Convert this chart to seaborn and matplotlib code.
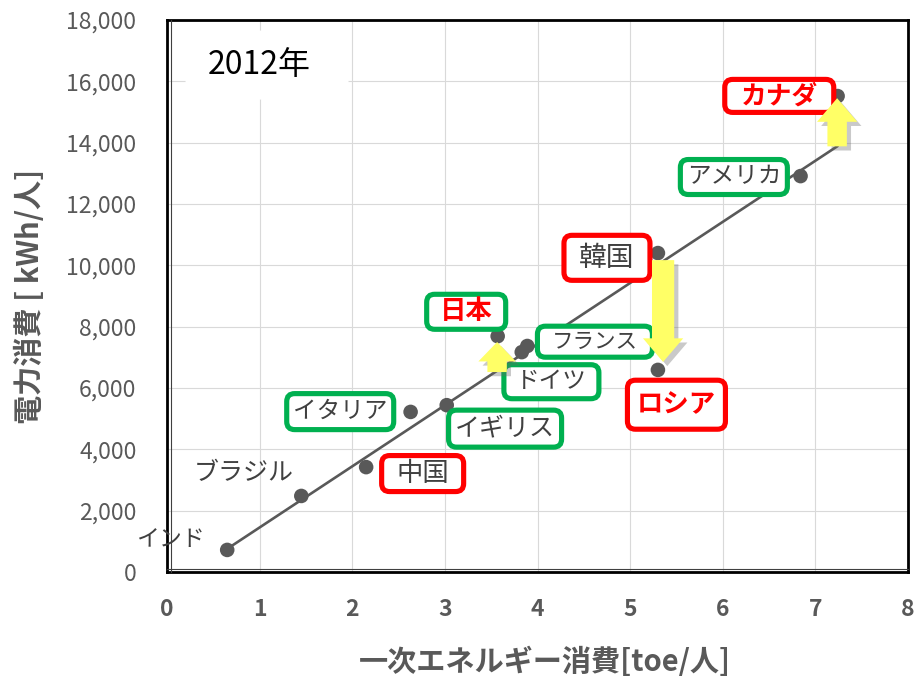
import numpy as np
import pandas as pd
import matplotlib
matplotlib.use("Agg")
import matplotlib.pyplot as plt
import matplotlib.patheffects as pe
import seaborn as sns
from matplotlib.patches import FancyBboxPatch, FancyArrowPatch, ArrowStyle
from matplotlib.transforms import IdentityTransform, offset_copy
from matplotlib.lines import Line2D
from matplotlib.ticker import FuncFormatter

# ---- data: 2012 per-capita primary energy vs electricity consumption ----
countries = ["インド", "ブラジル", "中国", "イタリア", "イギリス", "日本",
             "ドイツ", "フランス", "韓国", "ロシア", "アメリカ", "カナダ"]
energy_toe = [0.65, 1.45, 2.15, 2.63, 3.02, 3.57, 3.83, 3.89, 5.30, 5.30, 6.84, 7.24]
power_kwh = [720, 2480, 3420, 5220, 5440, 7690, 7170, 7370, 10400, 6590, 12910, 15520]

x_ticks = [0, 1, 2, 3, 4, 5, 6, 7, 8]
y_ticks = [0, 2000, 4000, 6000, 8000, 10000, 12000, 14000, 16000, 18000]
year_text = "2012年"
x_title = "一次エネルギー消費[toe/人]"
y_title = "電力消費 [ kWh/人]"

# ---- label layout: centre (data), box colour, box size (px), text colour, weight, size ----
RED, GREEN, DARK = "#FF0000", "#00B050", "#404040"
label_layout = {
    "カナダ":   (6.61, 15525, RED,   109, 33, RED,  "bold",   18.5),
    "アメリカ": (6.12, 12880, GREEN, 107, 35, DARK, "normal", 17.0),
    "韓国":     (4.75, 10245, RED,    86, 45, DARK, "normal", 20.0),
    "日本":     (3.23,  8485, GREEN,  79, 35, RED,  "bold",   19.0),
    "フランス": (4.62,  7510, GREEN, 115, 31, DARK, "normal", 15.5),
    "ドイツ":   (4.15,  6205, GREEN,  95, 34, DARK, "normal", 17.0),
    "ロシア":   (5.50,  5455, RED,    98, 49, RED,  "bold",   19.0),
    "イギリス": (3.65,  4675, GREEN, 113, 37, DARK, "normal", 18.0),
    "イタリア": (1.87,  5230, GREEN, 107, 36, DARK, "normal", 17.0),
    "中国":     (2.76,  3210, RED,    82, 36, DARK, "normal", 19.0),
    "ブラジル": (0.83,  3240, None,    0,  0, DARK, "normal", 18.0),
    "インド":   (0.04,  1060, None,    0,  0, DARK, "normal", 16.5),
}

# ---- yellow arrows: x position, start value, end value ----
arrow_x = [7.235, 5.356, 3.564]
arrow_from = [13880, 10170, 6520]
arrow_to = [15450, 6850, 7500]
arrow_shape = [(14.0, 29.0, 17.0), (16.0, 29.0, 17.0), (14.0, 27.0, 14.0)]  # tail, head width, head length

sns.set_theme(style="whitegrid")
plt.rcParams["font.family"] = ["Noto Sans CJK JP", "DejaVu Sans"]

fig = plt.figure(figsize=(9.18, 6.82), dpi=100)
fig.patch.set_facecolor("white")
ax = fig.add_axes([167 / 918, 110 / 682, 741 / 918, 552 / 682])
ax.set_facecolor("white")

df = pd.DataFrame({"country": countries, "energy": energy_toe, "power": power_kwh})

# regression trend line and the country points
sns.regplot(data=df, x="energy", y="power", scatter=False, ci=None, truncate=True,
            line_kws=dict(color="#595959", lw=1.9, zorder=3), ax=ax)
sns.scatterplot(data=df, x="energy", y="power", color="#595959", s=110,
                edgecolor="none", zorder=4, ax=ax, legend=False)

ax.set_xlim(0, 8)
ax.set_ylim(0, 18000)
ax.set_xticks(x_ticks)
ax.set_yticks(y_ticks)
ax.yaxis.set_major_formatter(FuncFormatter(lambda v, p: f"{int(v):,}"))
ax.grid(True, color="#d9d9d9", lw=0.8)
ax.set_axisbelow(True)

ax.tick_params(axis="y", labelsize=16.5, labelcolor="#595959", pad=22, length=0)
ax.tick_params(axis="x", labelsize=16.5, labelcolor="#595959", pad=19, length=0)
for lab in ax.get_xticklabels():
    lab.set_fontweight("bold")

ax.set_xlabel(x_title, fontsize=21, fontweight="bold", color="#595959")
ax.set_ylabel(y_title, fontsize=21, fontweight="bold", color="#595959")
ax.xaxis.set_label_coords(0.51, -0.135)
ax.yaxis.set_label_coords(-0.165, 0.5)

# frame: heavy black border with a thin inner line on left and bottom
for side in ["left", "right", "top", "bottom"]:
    ax.spines[side].set_visible(True)
    ax.spines[side].set_color("black")
    ax.spines[side].set_linewidth(2.0)
inner_left = offset_copy(ax.transAxes, fig=fig, x=3.5, y=0, units="dots")
inner_bottom = offset_copy(ax.transAxes, fig=fig, x=0, y=3.5, units="dots")
ax.add_line(Line2D([0, 0], [0.0, 1.0], transform=inner_left, color="#404040", lw=0.8, clip_on=False, zorder=8))
ax.add_line(Line2D([0, 1.0], [0, 0], transform=inner_bottom, color="#404040", lw=0.8, clip_on=False, zorder=8))


def pixel_box(cx, cy, w, h, edge, lw, face="white", rounding=8, z=5):
    px, py = ax.transData.transform((cx, cy))
    box = FancyBboxPatch((px - w / 2, py - h / 2), w, h,
                         boxstyle=f"round,pad=0,rounding_size={rounding}",
                         transform=IdentityTransform(), fc=face,
                         ec=edge if edge else "none", lw=lw, zorder=z, clip_on=False)
    ax.add_artist(box)


# year caption on a white patch
pixel_box(1.08, 16530, 163, 69, None, 0, rounding=0.01, z=2.5)
ax.text(1.0, 16530, year_text, ha="center", va="center", fontsize=23, color="black", zorder=6)

# country labels
for name, (cx, cy, edge, w, h, tcol, weight, size) in label_layout.items():
    if edge:
        pixel_box(cx, cy, w, h, edge, 3.7)
    ax.text(cx, cy, name, ha="center", va="center", fontsize=size,
            color=tcol, fontweight=weight, zorder=6)

# yellow arrows with a soft drop shadow
for x, y0, y1, (tw, hw, hl) in zip(arrow_x, arrow_from, arrow_to, arrow_shape):
    arr = FancyArrowPatch((x, y0), (x, y1),
                          arrowstyle=ArrowStyle.Simple(head_length=hl, head_width=hw, tail_width=tw),
                          mutation_scale=1, fc="#FFFF66", ec="none", shrinkA=0, shrinkB=0, zorder=7,
                          path_effects=[pe.SimplePatchShadow(offset=(3, -3), shadow_rgbFace="0.4", alpha=0.35),
                                        pe.Normal()])
    ax.add_patch(arr)

fig.savefig("out.png", dpi=100, facecolor="white")
